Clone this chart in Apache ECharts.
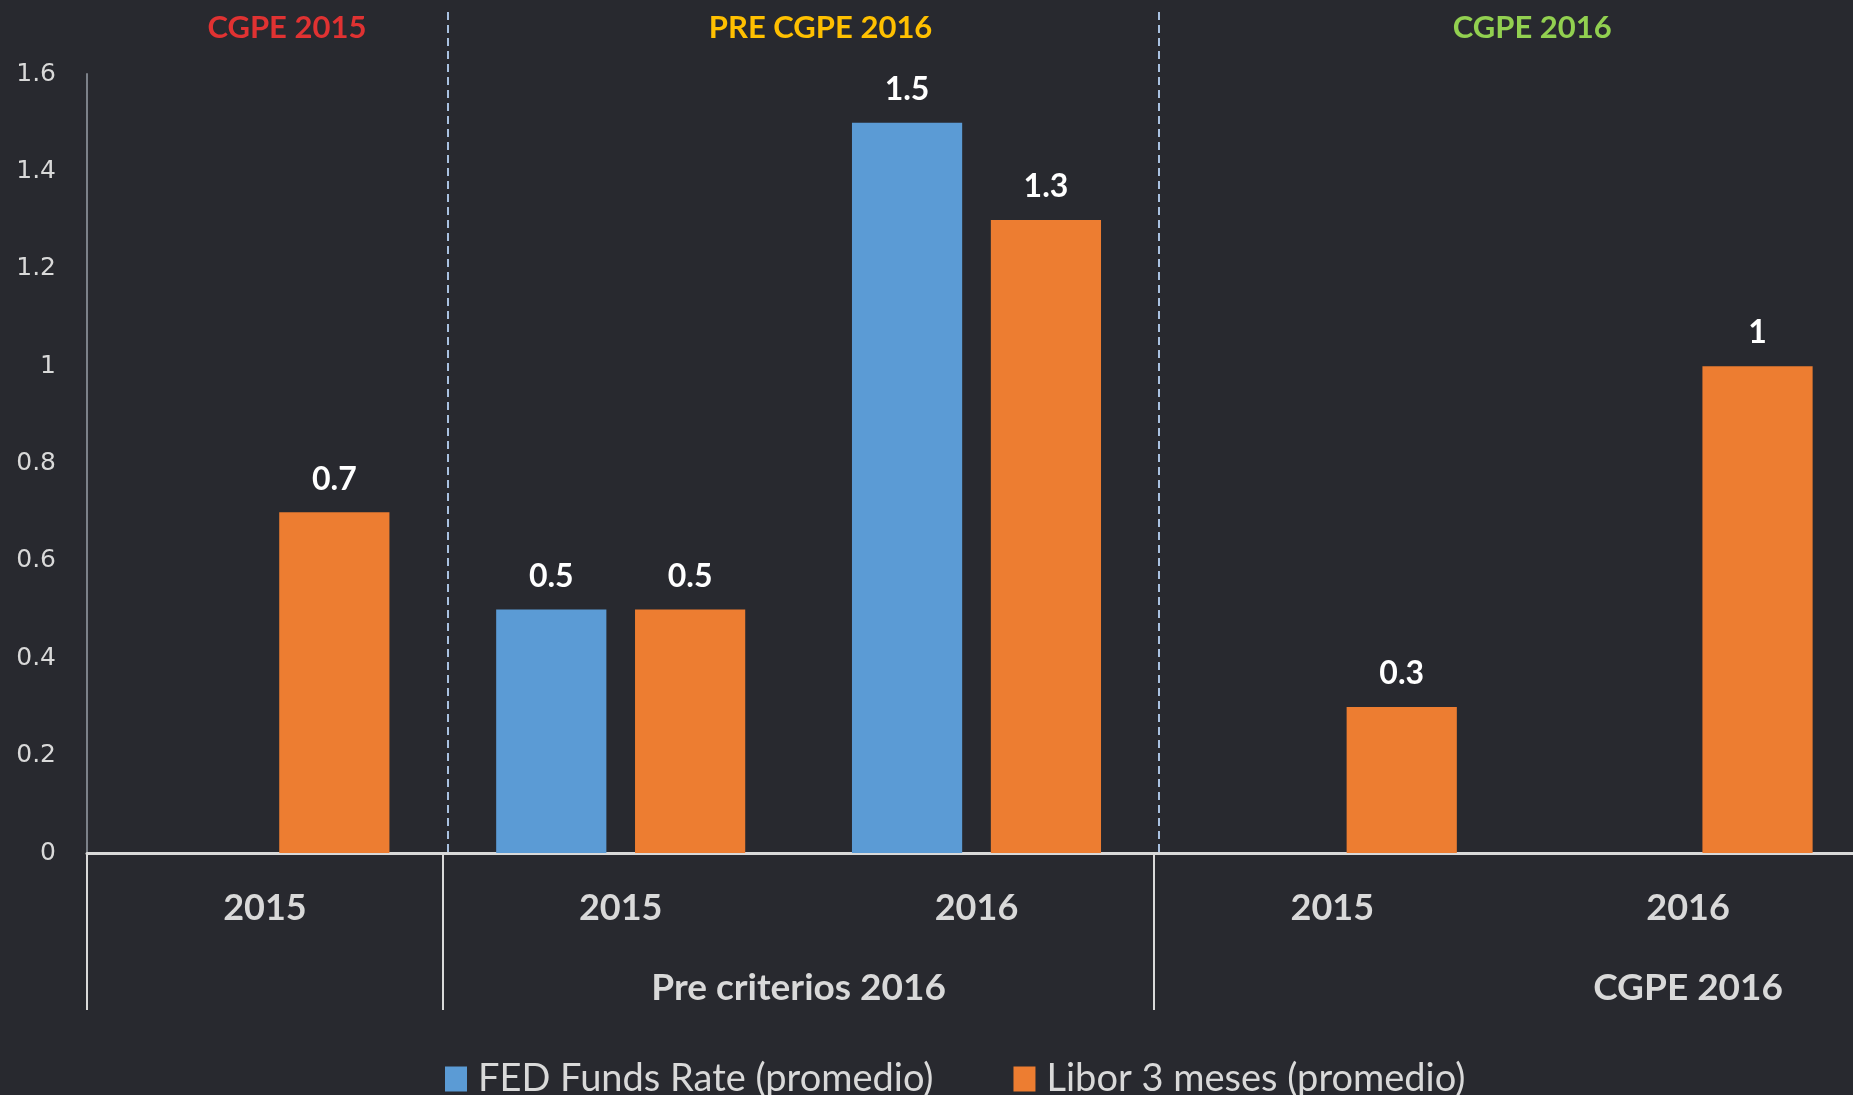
<!DOCTYPE html>
<html>
<head>
<meta charset="utf-8">
<script src="https://cdn.jsdelivr.net/npm/echarts@6/dist/echarts.min.js"></script>
<style>
  html, body { margin: 0; padding: 0; background: #28292f; overflow: hidden; }
  #chart { width: 1866px; height: 1095px; }
</style>
</head>
<body>
<div id="chart"></div>
<script>
var categories = ['2015', '2015', '2016', '2015', '2016'];
var fedFunds = [null, 0.5, 1.5, null, null];
var libor = [0.7, 0.5, 1.3, 0.3, 1];
var seriesNames = ['FED Funds Rate (promedio)', 'Libor 3 meses (promedio)'];

// bloques de arriba, en unidades de frontera de categoria
var groupTitles = ['CGPE 2015', 'PRE CGPE 2016', 'CGPE 2016'];
var groupTitleColors = ['#e03232', '#ffc000', '#92d050'];
var groupBounds = [0, 1, 3, 5];
// etiquetas de segundo nivel del eje x
var groupLabels = ['Pre criterios 2016', 'CGPE 2016'];
var groupLabelAt = [2, 4.5];

var textColor = '#d9d9d9';
var myChart = echarts.init(document.getElementById('chart'));

myChart.setOption({
    backgroundColor: '#28292f',
    animation: false,
    color: ['#5b9bd5', '#ed7d31'],
    grid: { left: 87, top: 74, bottom: 242, right: 0 },
    legend: {
        data: seriesNames,
        left: 440,
        top: 1055,
        icon: 'rect',
        itemWidth: 22,
        itemHeight: 25,
        itemGap: 80,
        textStyle: { color: textColor, fontFamily: 'Lato', fontSize: 38, padding: [0, 0, 0, 6] }
    },
    xAxis: {
        type: 'category',
        data: categories,
        axisLine: { lineStyle: { color: '#d9d9d9', width: 3 } },
        axisTick: { show: false },
        axisLabel: { color: textColor, fontFamily: 'Lato', fontWeight: 'bold', fontSize: 36, margin: 37 }
    },
    yAxis: {
        type: 'value',
        min: 0,
        max: 1.6,
        interval: 0.2,
        splitLine: { show: false },
        axisLine: { show: true, lineStyle: { color: '#7c8189', width: 2 } },
        axisTick: { show: false },
        axisLabel: { color: textColor, fontFamily: 'DejaVu Sans', fontSize: 25, margin: 31 }
    },
    series: [
        {
            name: seriesNames[0],
            type: 'bar',
            data: fedFunds,
            barGap: '26%',
            barCategoryGap: '30%',
            label: { show: true, position: 'top', distance: 17, color: '#ffffff', fontFamily: 'Lato', fontWeight: 'bold', fontSize: 32 }
        },
        {
            name: seriesNames[1],
            type: 'bar',
            data: libor,
            barGap: '26%',
            barCategoryGap: '30%',
            label: { show: true, position: 'top', distance: 17, color: '#ffffff', fontFamily: 'Lato', fontWeight: 'bold', fontSize: 32 }
        }
    ]
});

// posiciones de las fronteras desde la escala del eje
var c0 = myChart.convertToPixel({ xAxisIndex: 0 }, 0);
var c1 = myChart.convertToPixel({ xAxisIndex: 0 }, 1);
var band = c1 - c0;
function bx(b) { return c0 + (b - 0.5) * band; }
var zeroY = myChart.convertToPixel({ yAxisIndex: 0 }, 0);

var elements = [];
// lineas punteadas entre bloques
[1, 3].forEach(function (b) {
    var x = Math.round(bx(b)) + 5;
    elements.push({
        type: 'line', silent: true,
        shape: { x1: x, y1: 12, x2: x, y2: zeroY },
        style: { stroke: '#a9c1e0', lineWidth: 2, lineDash: [8, 5] }
    });
});
// lineas de grupo bajo el eje
[0, 1, 3].forEach(function (b) {
    var x = Math.round(bx(b));
    elements.push({
        type: 'line', silent: true,
        shape: { x1: x, y1: zeroY, x2: x, y2: 1010 },
        style: { stroke: '#d9d9d9', lineWidth: 2 }
    });
});
// titulos de bloque
for (var i = 0; i < groupTitles.length; i++) {
    var mid = (bx(groupBounds[i]) + bx(groupBounds[i + 1])) / 2 + 22;
    elements.push({
        type: 'text', silent: true,
        x: mid, y: 28,
        style: {
            text: groupTitles[i], fill: groupTitleColors[i],
            font: 'bold 31px Lato', textAlign: 'center', textVerticalAlign: 'middle'
        }
    });
}
// etiquetas de segundo nivel
for (var j = 0; j < groupLabels.length; j++) {
    elements.push({
        type: 'text', silent: true,
        x: bx(groupLabelAt[j]), y: 988,
        style: {
            text: groupLabels[j], fill: textColor,
            font: 'bold 37px Lato', textAlign: 'center', textVerticalAlign: 'middle'
        }
    });
}
myChart.setOption({ graphic: { elements: elements } });
</script>
</body>
</html>
